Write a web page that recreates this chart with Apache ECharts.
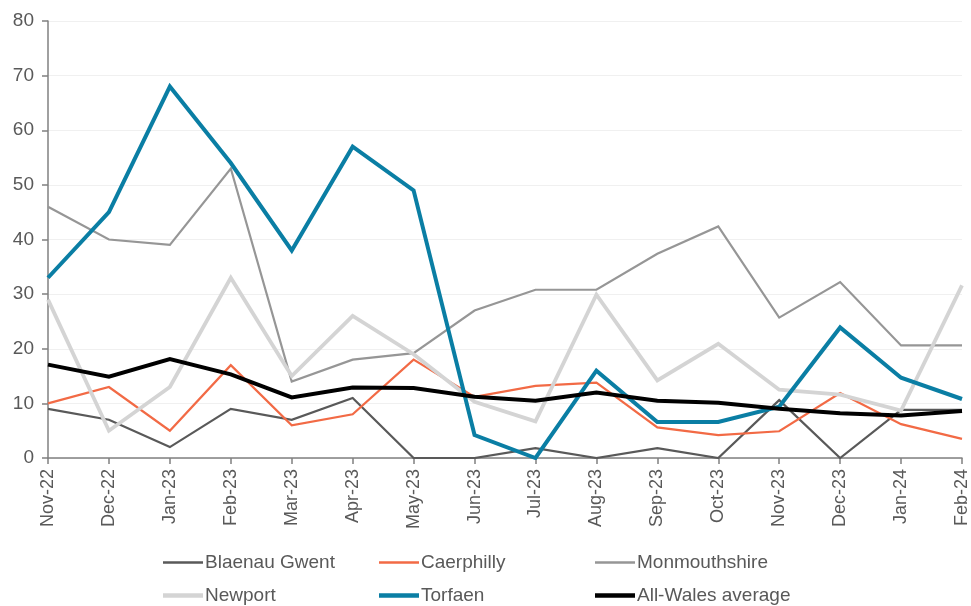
<!DOCTYPE html>
<html>
<head>
<meta charset="utf-8">
<script src="https://cdn.jsdelivr.net/npm/echarts@6/dist/echarts.min.js"></script>
<style>
  html, body { margin: 0; padding: 0; background: #fff; }
  #chart { width: 971px; height: 606px; }
</style>
</head>
<body>
<div id="chart"></div>
<script>
const months = ['Nov-22', 'Dec-22', 'Jan-23', 'Feb-23', 'Mar-23', 'Apr-23', 'May-23', 'Jun-23',
  'Jul-23', 'Aug-23', 'Sep-23', 'Oct-23', 'Nov-23', 'Dec-23', 'Jan-24', 'Feb-24'];

const blaenauGwent = [9, 7, 2, 9, 7, 11, 0, 0, 1.8, 0, 1.8, 0, 10.6, 0, 8.8, 8.8];
const caerphilly = [10, 13, 5, 17, 6, 8, 18, 11.2, 13.2, 13.8, 5.6, 4.2, 4.9, 11.9, 6.2, 3.5];
const monmouthshire = [46, 40, 39, 53, 14, 18, 19.2, 27, 30.8, 30.8, 37.4, 42.4, 25.7, 32.2, 20.6, 20.6];
const newport = [29, 5, 13, 33, 15, 26, 19, 10.3, 6.7, 29.9, 14.2, 20.9, 12.5, 11.6, 8.7, 31.6];
const torfaen = [33, 45, 68, 54, 38, 57, 49, 4.2, 0, 16, 6.6, 6.6, 9.4, 23.9, 14.7, 10.8];
const allWales = [17.1, 14.9, 18.1, 15.3, 11.1, 12.9, 12.8, 11.2, 10.5, 12, 10.5, 10.1, 9, 8.2, 7.8, 8.6];

const textColor = '#595959';
const fontFamily = 'Liberation Sans, Arial, sans-serif';

const chart = echarts.init(document.getElementById('chart'));

function lineSeries (name, data, color, width) {
  return {
    name: name,
    type: 'line',
    data: data,
    symbol: 'none',
    smooth: false,
    animation: false,
    lineStyle: { color: color, width: width, join: 'miter' },
    itemStyle: { color: color }
  };
}

// one legend per item so each swatch can have its own thickness
function legendItem (name, left, top, thick) {
  return {
    left: left,
    top: top,
    icon: 'rect',
    itemWidth: 40,
    itemHeight: thick,
    itemGap: 0,
    padding: 0,
    data: [name],
    textStyle: { color: textColor, fontSize: 19, fontFamily: fontFamily, padding: [0, 0, 0, -3] }
  };
}

chart.setOption({
  backgroundColor: '#fff',
  animation: false,
  grid: { left: 48, right: 8, top: 21, bottom: 148, containLabel: false },
  legend: [
    legendItem('Blaenau Gwent', 163, 553, 2.5),
    legendItem('Caerphilly', 379, 553, 2.5),
    legendItem('Monmouthshire', 595, 553, 2.5),
    legendItem('Newport', 163, 586, 4.5),
    legendItem('Torfaen', 379, 586, 4.5),
    legendItem('All-Wales average', 595, 586, 4.5)
  ],
  xAxis: {
    type: 'category',
    data: months,
    boundaryGap: false,
    axisLine: { lineStyle: { color: '#808080', width: 1.5 } },
    axisTick: { show: true, length: 6, alignWithLabel: true, lineStyle: { color: '#808080', width: 1.5 } },
    axisLabel: { rotate: 90, color: textColor, fontSize: 18, fontFamily: fontFamily, margin: 11, interval: 0 },
    splitLine: { show: false }
  },
  yAxis: {
    type: 'value',
    min: 0,
    max: 80,
    interval: 10,
    axisLine: { show: true, lineStyle: { color: '#808080', width: 1.5 } },
    axisTick: { show: true, length: 6, lineStyle: { color: '#808080', width: 1.5 } },
    axisLabel: { color: textColor, fontSize: 19, fontFamily: fontFamily, margin: 14 },
    splitLine: { show: true, lineStyle: { color: '#f0f0f0', width: 1 } }
  },
  series: [
    lineSeries('Blaenau Gwent', blaenauGwent, '#595959', 2.2),
    lineSeries('Caerphilly', caerphilly, '#f26a45', 2.2),
    lineSeries('Monmouthshire', monmouthshire, '#969696', 2.2),
    lineSeries('Newport', newport, '#d4d4d4', 3.8),
    lineSeries('Torfaen', torfaen, '#0a7ea4', 4),
    lineSeries('All-Wales average', allWales, '#000000', 4)
  ]
});
</script>
</body>
</html>
